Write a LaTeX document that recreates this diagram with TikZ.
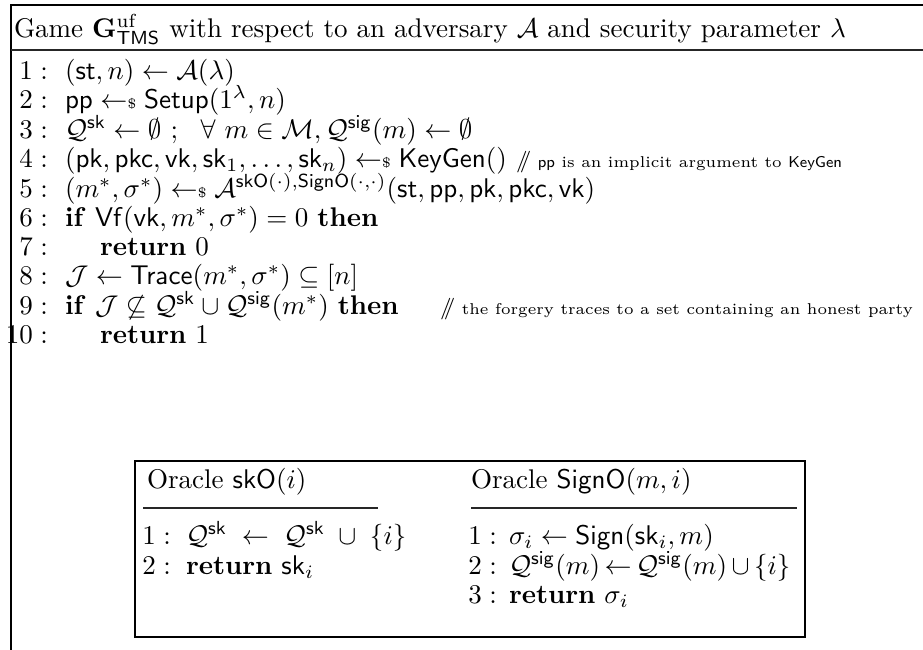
\RequirePackage{fix-cm}
\documentclass[tikz,border=0pt]{standalone}
\usepackage{amsmath,amssymb}
\newcommand{\msf}[1]{\mathsf{#1}}
\newcommand{\smp}{\mathrel{{\leftarrow}{\scriptscriptstyle\$}}}
\newcommand{\cmtslash}{{\footnotesize$/\!\!/$}}
\begin{document}
\begin{tikzpicture}[x=0.37pt,y=-0.37pt,
  txt/.style={anchor=base west, inner sep=0pt, outer sep=0pt},
  num/.style={anchor=base east, inner sep=0pt, outer sep=0pt},
  rule/.style={line width=0.5pt},
  hrule/.style={line width=0.65pt, black!85},
  cmt/.style={anchor=base west, inner sep=0pt, outer sep=0pt, font=\fontsize{5.8}{7}\selectfont}]
\useasboundingbox (0,0) rectangle (923,649);
% outer frame
\draw[rule] (11,660) -- (11,5) -- (930,5);
\draw[hrule] (11,50) -- (930,50);
\node[txt] (hdr) at (14,37) {Game $\mathbf{G}^{\mathrm{uf}}_{\msf{TMS}}$ with respect to an adversary $\mathcal{A}$ and security parameter $\lambda$};
% line numbers
\foreach \n/\y in {1/79,2/108,3/138,4/167,5/197,6/226,7/255,8/284,9/314,10/343}
  \node[num] (n\n) at (48,\y) {$\n:$};
\node[txt] (l1) at (65,79) {$(\msf{st}, n) \leftarrow \mathcal{A}(\lambda)$};
\node[txt] (l2) at (65,108) {$\msf{pp} \smp \msf{Setup}(1^{\lambda}, n)$};
\node[txt] (l3) at (65,138) {$\mathcal{Q}^{\msf{sk}} \leftarrow \emptyset\ ;\ \ \forall\ m \in \mathcal{M}, \mathcal{Q}^{\msf{sig}}(m) \leftarrow \emptyset$};
\node[txt] (l4) at (65,167) {$(\msf{pk}, \msf{pkc}, \msf{vk}, \msf{sk}_1, \ldots, \msf{sk}_n) \smp \msf{KeyGen}()$};
\node[cmt] (c4) at (516,167) {\cmtslash\ $\msf{pp}$ is an implicit argument to $\msf{KeyGen}$};
\node[txt] (l5) at (65,197) {$(m^*, \sigma^*) \smp \mathcal{A}^{\msf{skO}(\cdot), \msf{SignO}(\cdot,\cdot)}(\msf{st}, \msf{pp}, \msf{pk}, \msf{pkc}, \msf{vk})$};
\node[txt] (l6) at (65,226) {$\mathbf{if}\ \msf{Vf}(\msf{vk}, m^*, \sigma^*) = 0\ \mathbf{then}$};
\node[txt] (l7) at (100,255) {$\mathbf{return}\ 0$};
\node[txt] (l8) at (65,284) {$\mathcal{J} \leftarrow \msf{Trace}(m^*, \sigma^*) \subseteq [n]$};
\node[txt] (l9) at (65,314) {$\mathbf{if}\ \mathcal{J} \not\subseteq \mathcal{Q}^{\msf{sk}} \cup \mathcal{Q}^{\msf{sig}}(m^*)\ \mathbf{then}$};
\node[cmt] (c9) at (440,314) {\cmtslash\ the forgery traces to a set containing an honest party};
\node[txt] (l10) at (100,343) {$\mathbf{return}\ 1$};
% inner box
\draw[rule] (135,461) rectangle (805,637);
\node[txt] (oh1) at (147,488) {Oracle $\msf{skO}(i)$};
\draw[hrule] (143,508) -- (378,508);
\node[txt] (oh2) at (471,488) {Oracle $\msf{SignO}(m, i)$};
\draw[hrule] (471,508) -- (797,508);
\foreach \n/\y in {1/544,2/574}
  \node[num] (a\n) at (171,\y) {$\n:$};
\foreach \n/\y in {1/544,2/574,3/603}
  \node[num] (b\n) at (497,\y) {$\n:$};
\node[txt] (s1) at (186,544) {$\mathcal{Q}^{\msf{sk}} \;\leftarrow\; \mathcal{Q}^{\msf{sk}} \;\cup\; \{i\}$};
\node[txt] (s2) at (186,574) {$\mathbf{return}\ \msf{sk}_i$};
\node[txt] (g1) at (509,544) {$\sigma_i \leftarrow \msf{Sign}(\msf{sk}_i, m)$};
\node[txt] (g2) at (509,574) {\thickmuskip=3mu\medmuskip=3mu$\mathcal{Q}^{\msf{sig}}(m) \leftarrow \mathcal{Q}^{\msf{sig}}(m) \cup \{i\}$};
\node[txt] (g3) at (509,603) {$\mathbf{return}\ \sigma_i$};
\end{tikzpicture}
\end{document}
